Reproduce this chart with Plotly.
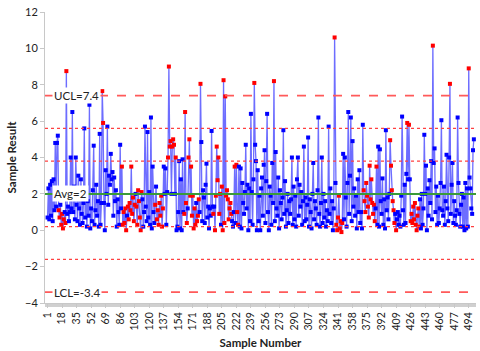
import plotly.graph_objects as go

# ---- data ----
sample_result = [
    0.7, 2.3, 0.6, 2.5, 0.8, 2.7, 0.5, 2.8, 1.1, 4.8,
    1.3, 4.8, 5.2, 1.1, 0.7, 1.4, 0.3, 0.9, 0.1, 0.6,
    1.0, 0.4, 8.75, 0.9, 1.3, 0.5, 1.0, 4.0, 1.2, 6.5,
    1.0, 2.4, 0.6, 4.0, 1.4, 0.5, 3.0, 1.2, 0.3, 2.8,
    0.9, 0.4, 1.5, 5.6, 0.7, 2.0, 0.2, 1.6, 0.8, 6.9,
    0.1, 1.2, 0.5, 2.2, 4.65, 0.3, 1.1, 2.5, 0.8, 1.6,
    0.2, 5.3, 0.3, 1.5, 7.65, 5.9, 1.5, 0.0, 3.3, 2.0,
    5.7, 1.4, 3.0, 2.5, 4.2, 2.8, 3.2, 0.8, 2.9, 1.6,
    2.2, 0.2, 1.7, 1.0, 0.3, 4.7, 1.2, 3.5, 0.3, 1.0,
    0.4, 1.2, 0.0, 0.8, 1.3, 0.6, 1.5, 1.1, 3.5, 0.9,
    1.8, 0.5, 1.4, 2.0, 1.3, 0.3, 2.2, 1.6, 0.7, 0.0,
    2.1, 1.7, 0.2, 1.0, 5.7, 1.3, 0.5, 5.4, 0.7, 2.1,
    0.3, 6.2, 0.1, 3.5, 1.0, 0.4, 1.4, 2.4, 0.6, 1.1,
    0.3, 1.5, 0.8, 1.9, 0.2, 1.2, 3.5, 2.0, 3.4, 0.3,
    2.1, 4.0, 9.0, 4.6, 4.9, 2.0, 4.6, 5.0, 4.7, 2.0,
    4.0, 0.0, 0.2, 1.0, 3.8, 0.1, 2.8, 0.0, 3.9, 1.0,
    0.9, 6.5, 1.5, 0.4, 1.2, 4.0, 5.0, 1.9, 3.5, 0.8,
    1.9, 0.1, 1.2, 0.3, 1.5, 0.5, 0.8, 1.7, 1.0, 8.05,
    4.85, 0.5, 2.2, 1.8, 0.4, 2.5, 3.66, 0.7, 1.3, 0.1,
    1.2, 0.8, 5.46, 1.3, 0.9, 1.3, 0.0, 1.9, 4.6, 2.75,
    4.0, 0.9, 2.0, 0.3, 2.4, 0.0, 8.25, 0.4, 7.36, 1.9,
    2.2, 1.7, 0.6, 1.2, 1.5, 0.9, 0.5, 0.2, 1.0, 3.5,
    0.4, 3.6, 1.0, 0.3, 3.5, 0.2, 3.4, 0.1, 2.6, 1.5,
    0.9, 2.1, 4.7, 1.2, 2.5, 0.0, 2.3, 0.5, 6.4, 2.1,
    0.3, 2.8, 8.1, 4.7, 3.8, 0.0, 3.3, 0.5, 1.9, 0.0,
    2.3, 2.9, 0.8, 3.6, 4.4, 0.4, 2.7, 6.4, 1.0, 0.0,
    2.4, 1.9, 0.3, 3.7, 1.5, 8.2, 0.5, 4.3, 1.2, 0.8,
    2.9, 0.1, 2.2, 1.5, 0.6, 1.8, 5.5, 0.9, 2.7, 0.2,
    1.1, 2.0, 0.4, 1.6, 0.9, 1.7, 4.0, 0.3, 2.4, 0.6,
    1.9, 0.2, 2.8, 4.0, 0.8, 2.5, 1.3, 2.1, 0.3, 1.6,
    4.6, 0.5, 1.8, 0.6, 1.4, 5.1, 0.2, 1.7, 1.0, 0.1,
    2.0, 3.7, 0.6, 1.6, 1.2, 0.3, 2.2, 6.2, 0.9, 0.2,
    1.5, 4.0, 0.4, 2.0, 0.7, 1.6, 0.2, 1.1, 0.5, 5.7,
    0.9, 2.3, 0.4, 1.6, 0.0, 1.2, 10.6, 2.6, 0.3, 0.0,
    0.7, 1.9, 0.1, 0.5, -0.1, 0.4, 4.2, 0.6, 4.0, 1.8,
    0.2, 2.6, 6.5, 0.9, 3.0, 6.2, 0.5, 4.9, 1.3, 2.3,
    0.8, 1.9, 0.1, 2.8, 1.0, 3.3, 0.4, 1.0, 0.1, 5.8,
    2.2, 1.6, 1.0, 2.6, 1.9, 1.3, 0.7, 3.55, 1.7, 2.8,
    1.5, 0.9, 1.4, 0.5, 1.2, 3.5, 0.3, 4.6, 0.2, 4.45,
    1.6, 0.9, 2.85, 0.3, 1.7, 0.1, 5.5, 1.1, 1.8, 0.6,
    2.0, 4.95, 3.55, 2.2, 1.6, 1.1, 0.4, 0.9, 0.0, 0.6,
    1.0, 0.3, 0.8, 0.2, 1.9, 6.25, 1.1, 0.3, 2.5, 0.4,
    3.1, 5.9, 2.8, 5.8, 2.8, 0.5, 0.9, 0.4, 1.3, 0.6,
    1.5, 0.3, 0.0, 0.8, 1.2, 0.2, 1.7, 0.1, 2.0, 0.3,
    1.2, 5.25, 2.0, 3.55, 0.0, 2.3, 0.8, 2.75, 1.5, 3.8,
    0.6, 10.15, 3.7, 4.5, 1.0, 2.4, 0.3, 1.9, 0.4, 1.2,
    2.6, 6.05, 1.1, 0.8, 2.4, 0.3, 1.6, 4.15, 1.2, 0.5,
    4.0, 8.05, 0.9, 2.5, 3.7, 0.4, 1.6, 0.8, 0.3, 1.1,
    6.2, 2.6, 0.9, 0.2, 1.4, 2.0, 0.2, 1.8, 0.0, 2.6,
    0.1, 2.3, 0.2, 8.9, 2.9, 2.3, 1.2, 0.9, 4.4, 5.0,
]
sample_number = list(range(1, len(sample_result) + 1))

flagged_samples = (
    [14, 15, 17, 18, 19, 20, 22, 23, 65, 66]
    + [88, 89, 90, 91, 92, 93] + list(range(95, 104)) + list(range(105, 112))
    + [127] + list(range(129, 137))
    + [142, 143, 144, 145, 147, 148, 149, 151]
    + [161, 162, 163, 164] + list(range(166, 175)) + [176, 177, 178, 180]
    + [195, 197, 198, 199, 200, 201, 202, 203] + list(range(205, 217)) + [220, 222, 223, 224]
    + [243, 266, 337, 339, 340] + list(range(341, 347))
    + list(range(371, 385)) + [386]
    + list(range(402, 408)) + [409]
    + [422, 424] + list(range(426, 437))
    + [452, 472, 494]
)

limit_values = [7.4, 5.6, 3.8, 2.0, 0.2, -1.6, -3.4]
limit_kinds = ["limit", "sigma", "sigma", "avg", "sigma", "sigma", "limit"]
limit_labels = {7.4: "UCL=7.4", 2.0: "Avg=2", -3.4: "LCL=-3.4"}

x_tick_labels = list(range(1, 495, 17))
y_tick_values = list(range(-4, 13, 2))

# ---- figure ----
flag_set = set(flagged_samples)
marker_colors = ["#ff0000" if n in flag_set else "#0000ff" for n in sample_number]

fig = go.Figure()
fig.add_trace(go.Scatter(
    x=sample_number, y=sample_result, mode="lines+markers",
    line=dict(color="rgba(30,30,255,0.65)", width=1.3),
    marker=dict(symbol="square", size=4, color=marker_colors, line=dict(width=0)),
    showlegend=False, hoverinfo="x+y",
))

styles = {
    "limit": dict(color="#ff5a5a", width=1.6, dash="dash"),
    "sigma": dict(color="#ff4040", width=1.4, dash="dot"),
    "avg": dict(color="#3a9a3a", width=2),
}
for val, kind in zip(limit_values, limit_kinds):
    fig.add_shape(type="line", xref="paper", x0=0, x1=1, yref="y", y0=val, y1=val,
                  line=styles[kind], layer="above")

for val, text in limit_labels.items():
    fig.add_annotation(x=0.016, xref="paper", xanchor="left", y=val, yref="y",
                       text=text, showarrow=False, bgcolor="white", borderpad=1,
                       font=dict(family="Lato", size=11.5, color="#222"))

fig.update_layout(
    width=480, height=351,
    margin=dict(l=45, r=4, t=12, b=48),
    plot_bgcolor="white", paper_bgcolor="white",
    font=dict(family="Lato", size=10, color="#222"),
)
fig.update_xaxes(
    range=[-2, 502.5], tickmode="array", tickvals=x_tick_labels,
    ticktext=[str(v) for v in x_tick_labels], tickangle=-90,
    showline=True, linecolor="#c8c8c8", linewidth=1,
    ticks="outside", ticklen=4, tickcolor="#c8c8c8",
    minor=dict(dtick=1, tick0=1, ticks="outside", ticklen=3, tickcolor="#d0d0d0"),
    showgrid=False, zeroline=False,
    title=dict(text="<b>Sample Number</b>", font=dict(size=11.5), standoff=9),
    tickfont=dict(size=10.5),
)
fig.update_yaxes(
    range=[-4, 12], tickvals=y_tick_values,
    showline=True, linecolor="#c8c8c8", linewidth=1,
    ticks="outside", ticklen=4, tickcolor="#c8c8c8",
    showgrid=False, zeroline=False,
    title=dict(text="<b>Sample Result</b>", font=dict(size=11.5), standoff=6),
    tickfont=dict(size=11),
)

fig.write_html("out.html")
